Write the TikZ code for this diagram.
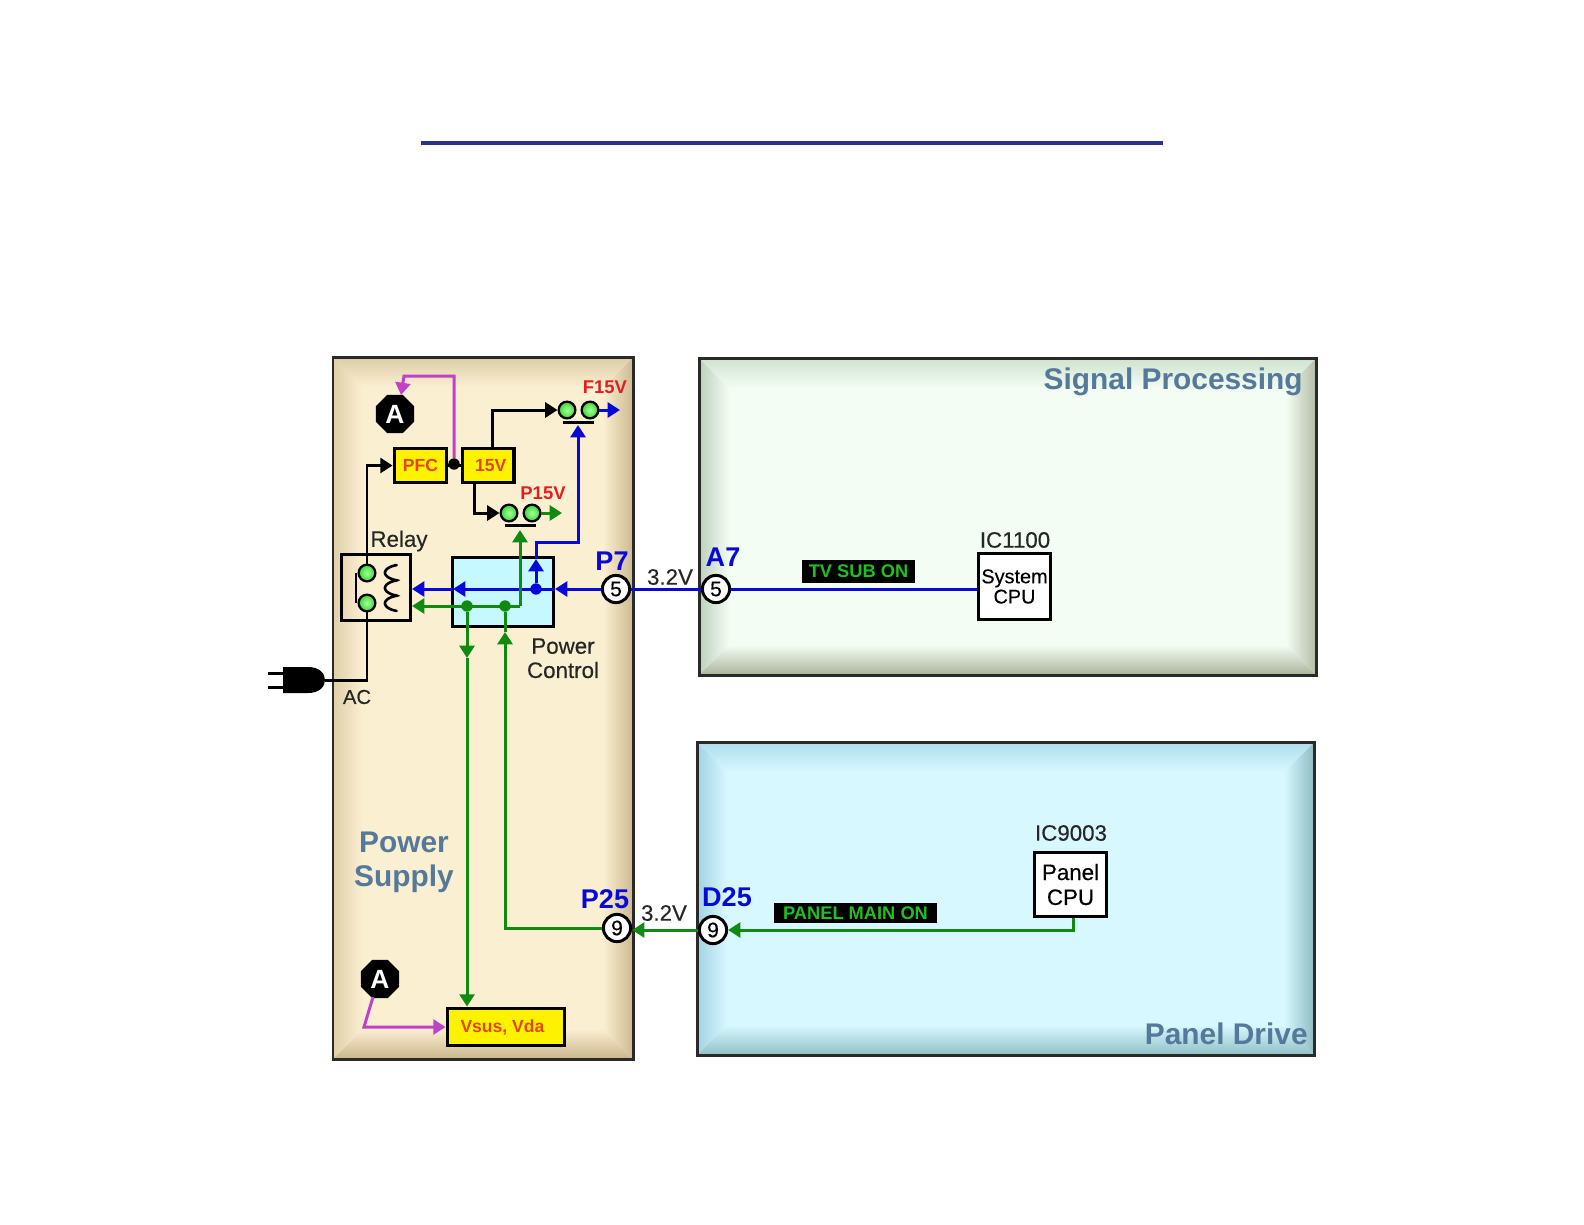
\documentclass[tikz,border=0pt]{standalone}
\usepackage{fontspec}
\setmainfont{Liberation Sans}
\newfontfamily\semifont{Liberation Sans}[FakeBold=0.35]
\usetikzlibrary{arrows.meta,shapes.geometric}
\definecolor{TitleBlue}{HTML}{2B3192}
\definecolor{PanelInk}{HTML}{2A2A2A}
\definecolor{HeadBlue}{HTML}{54799A}
\definecolor{SigBlue}{HTML}{0808D8}
\definecolor{SigGreen}{HTML}{108A10}
\definecolor{SigPink}{HTML}{C040C8}
\definecolor{SigRed}{HTML}{E02020}
\definecolor{BoxRed}{HTML}{E04808}
\definecolor{LedGreen}{HTML}{38D838}
\definecolor{LedHigh}{HTML}{A8FF98}
\definecolor{OnGreen}{HTML}{20C020}
\definecolor{CtrlCyan}{HTML}{C6F8FF}
\definecolor{SupplyIn}{HTML}{FBEFD2}
\definecolor{SupplyTop}{HTML}{DCCDA6}
\definecolor{SupplyLeft}{HTML}{DFCFA8}
\definecolor{SupplyRight}{HTML}{CDB98F}
\definecolor{SupplyLow}{HTML}{C9B58D}
\definecolor{SignalIn}{HTML}{F3FDF3}
\definecolor{SignalTop}{HTML}{CFE2CF}
\definecolor{SignalLeft}{HTML}{BCD0BC}
\definecolor{SignalRight}{HTML}{B4BCA6}
\definecolor{SignalLow}{HTML}{ABB39B}
\definecolor{DriveIn}{HTML}{D8F8FF}
\definecolor{DriveTop}{HTML}{ADDCEA}
\definecolor{DriveLeft}{HTML}{A2D2E2}
\definecolor{DriveRight}{HTML}{8FBCC2}
\definecolor{DriveLow}{HTML}{90BFC6}
% args: x1,y1,x2,y2,inner,top,left,right,low
\newcommand{\bevelpanel}[9]{
  \fill[#5] (#1,#2) rectangle (#3,#4);
  \begin{scope}
    \clip (#1,#2) -- (#1+30,#2+30) -- (#1+30,#4-30) -- (#1,#4) -- cycle;
    \shade[left color=#7,right color=#5] (#1,#2) rectangle (#1+30,#4);
  \end{scope}
  \begin{scope}
    \clip (#3,#2) -- (#3-30,#2+30) -- (#3-30,#4-30) -- (#3,#4) -- cycle;
    \shade[left color=#5,right color=#8] (#3-30,#2) rectangle (#3,#4);
  \end{scope}
  \begin{scope}
    \clip (#1,#2) -- (#1+30,#2+30) -- (#3-30,#2+30) -- (#3,#2) -- cycle;
    \shade[top color=#6,bottom color=#5] (#1,#2) rectangle (#3,#2+30);
  \end{scope}
  \begin{scope}
    \clip (#1,#4) -- (#1+30,#4-30) -- (#3-30,#4-30) -- (#3,#4) -- cycle;
    \shade[top color=#5,bottom color=#9] (#1,#4-30) rectangle (#3,#4);
  \end{scope}
  \draw[PanelInk,line width=1.7pt] (#1,#2) rectangle (#3,#4);
}

\begin{document}
\begin{tikzpicture}[
    x=0.02cm,y=-0.02cm,
    arrowtip/.style={-{Triangle[length=7pt,width=8.5pt]}},
    wire/.style={line width=1.7pt,color=#1},
    head/.style={font=\fontsize{17}{19.5}\selectfont\bfseries,color=HeadBlue,align=center,inner sep=0},
    plain/.style={font=\semifont\fontsize{12.7}{13.8}\selectfont,color=black!85,align=center,inner sep=0},
    pin/.style={font=\fontsize{15.4}{17}\selectfont\bfseries,color=SigBlue,inner sep=0},
    rail/.style={font=\fontsize{10.5}{12}\selectfont\bfseries,color=SigRed,inner sep=0},
    conn/.style={circle,draw=black,line width=1.7pt,fill=white,minimum size=15.5pt,inner sep=0,font=\semifont\fontsize{12}{13}\selectfont},
    block/.style={draw=black,line width=1.8pt,fill=yellow,inner sep=0,font=\fontsize{10}{12}\selectfont\bfseries,text=BoxRed},
    cpu/.style={draw=black,line width=1.8pt,fill=white,inner sep=0,align=center},
    led/.style={circle,draw=black,line width=1.3pt,inner color=LedHigh,outer color=LedGreen,minimum size=9.5pt,inner sep=0},
    tag/.style={fill=black,text=OnGreen,inner sep=0,font=\fontsize{10.4}{12}\selectfont\bfseries},
    octa/.style={regular polygon,regular polygon sides=8,fill=black,text=white,minimum size=23.5pt,inner sep=0,font=\fontsize{15}{16}\selectfont\bfseries},
    dot/.style={circle,fill=#1,minimum size=6.5pt,inner sep=0}
  ]
  \useasboundingbox (0,0) rectangle (1584,1224);

  % title rule
  \coordinate (ruleL) at (421,143);
  \coordinate (ruleR) at (1163,143);
  \draw[TitleBlue,line width=1.8pt] (ruleL) -- (ruleR);

  % panels
  \bevelpanel{333}{357}{633}{1059}{SupplyIn}{SupplyTop}{SupplyLeft}{SupplyRight}{SupplyLow}
  \bevelpanel{699}{358}{1316}{675}{SignalIn}{SignalTop}{SignalLeft}{SignalRight}{SignalLow}
  \bevelpanel{697}{742}{1314}{1055}{DriveIn}{DriveTop}{DriveLeft}{DriveRight}{DriveLow}
  \node[head] (supplylbl) at (404,862) {Power\\Supply};
  \node[head,anchor=east] (signallbl) at (1303,382) {Signal Processing};
  \node[head,anchor=east] (drivelbl) at (1308,1034) {Panel Drive};

  % power blocks
  \node[block,minimum width=30pt,minimum height=19.8pt] (pfc) at (420.5,465.5) {PFC};
  \node[block,minimum width=29.5pt,minimum height=19.8pt] (v15) at (488,465.5) {\hspace{3pt}15V};
  \node[block,minimum width=67pt,minimum height=21.5pt] (vsus) at (506,1027) {Vsus, Vda\hspace{4pt}\mbox{}};
  \node[octa] (atop) at (395,414) {A};
  \node[octa] (abot) at (380,979) {A};
  \node[dot=black] (join) at (454,464) {};

  % outputs
  \node[led] (f15a) at (567,410) {};
  \node[led] (f15b) at (590,410) {};
  \node[led] (p15a) at (509,513) {};
  \node[led] (p15b) at (532,513) {};
  \node[rail] (f15lbl) at (605,387) {F15V};
  \node[rail] (p15lbl) at (543,493) {P15V};
  \coordinate (f15barL) at (563,422);
  \coordinate (f15barR) at (594,422);
  \coordinate (p15barL) at (505,525);
  \coordinate (p15barR) at (536,525);
  \draw[wire=black] (f15barL) -- (f15barR);
  \draw[wire=black] (p15barL) -- (p15barR);

  % relay
  \node[draw=black,line width=1.7pt,minimum width=39.7pt,minimum height=38pt,inner sep=0] (relay) at (376,587.5) {};
  \node[led] (conta) at (367,573) {};
  \node[led] (contb) at (367,603) {};
  \node[plain] (relaylbl) at (399,541) {Relay};
  \draw[wire=black,line width=1.5pt,line cap=round] plot[domain=20:1060,samples=90,smooth] ({391+6*cos(\x)},{565+\x/1080*46-2.2*sin(\x)});
  \draw[wire=black] (356,573) -- (356,603);

  % power control
  \node[draw=black,line width=1.8pt,fill=CtrlCyan,minimum width=57.8pt,minimum height=39.7pt,inner sep=0] (ctrl) at (503,592) {};
  \node[plain,anchor=north] (ctrllbl) at (563,638) {Power\\Control};

  % connectors and pins
  \node[conn] (p7) at (616,589) {5};
  \node[conn] (a7) at (716,589) {5};
  \node[conn] (p25) at (617,928) {9};
  \node[conn] (d25) at (713,930) {9};
  \node[pin] (p7lbl) at (612,561) {P7};
  \node[pin] (a7lbl) at (723,557) {A7};
  \node[pin] (p25lbl) at (605,899) {P25};
  \node[pin] (d25lbl) at (727,897) {D25};
  \node[plain] (vtop) at (670,577) {3.2V};
  \node[plain] (vbot) at (664,913) {3.2V};

  % cpu blocks
  \node[cpu,minimum width=41.4pt,minimum height=38pt,font=\semifont\fontsize{11.3}{11.5}\selectfont] (syscpu) at (1014.5,586.5) {\raisebox{-2pt}{System}\\\raisebox{-2pt}{CPU}};
  \node[cpu,minimum width=41.4pt,minimum height=36.8pt,font=\semifont\fontsize{12.7}{14.2}\selectfont] (pancpu) at (1070.5,884.5) {Panel\\CPU};
  \node[plain] (ic1100) at (1015,540) {IC1100};
  \node[plain] (ic9003) at (1071,833) {IC9003};
  \node[tag,minimum width=64pt,minimum height=13pt] (subon) at (858.5,571.5) {TV SUB ON};
  \node[tag,minimum width=92.5pt,minimum height=11.3pt] (mainon) at (855.5,913) {PANEL MAIN ON};

  % plug
  \coordinate (plug) at (325,680);
  \fill[black] (283,667) -- (308,667) .. controls (319,667) and (325,673) .. (plug)
    .. controls (325,687) and (319,693) .. (308,693) -- (283,693) -- cycle;
  \coordinate (prongA) at (283,673);
  \coordinate (prongB) at (283,687);
  \draw[wire=black] (prongA) -- ++(-15,0);
  \draw[wire=black] (prongB) -- ++(-15,0);
  \node[plain,font=\semifont\fontsize{11.5}{13}\selectfont] (aclbl) at (357,697) {AC};

  % black wiring
  \draw[wire=black] (plug) -| (contb.south);
  \draw[wire=black,arrowtip] (conta.north) |- (pfc.west);
  \draw[wire=black,arrowtip] (v15.north -| 492,0) |- (f15a.west);
  \draw[wire=black,arrowtip] (v15.south -| 474,0) |- (p15a.west);
  \draw[wire=black] (pfc.east) -- (v15.west);

  % magenta
  \coordinate (magT) at (454,376);
  \coordinate (magL) at (404,376);
  \coordinate (atopin) at (401,395);
  \coordinate (about) at (373,997);
  \coordinate (magB) at (364,1027);
  \draw[wire=SigPink,arrowtip] (join) -- (magT) -- (magL) -- (atopin);
  \draw[wire=SigPink,arrowtip] (about) -- (magB) -- (vsus.west);

  % blue wiring
  \coordinate (ctrlin) at (555,589);
  \coordinate (ctrlmid) at (453,589);
  \coordinate (relayin) at (412,589);
  \coordinate (upbend) at (536,542);
  \coordinate (upstop) at (536,559);
  \coordinate (f15in) at (578,425);
  \coordinate (f15out) at (620,410);
  \node[dot=SigBlue] (bluejoin) at (536,589) {};
  \draw[wire=SigBlue,arrowtip] (p7) -- (ctrlin);
  \draw[wire=SigBlue,arrowtip] (ctrlin) -- (ctrlmid);
  \draw[wire=SigBlue,arrowtip] (ctrlmid) -- (relayin);
  \draw[wire=SigBlue,arrowtip] (bluejoin) -- (upstop);
  \draw[wire=SigBlue,arrowtip] (upstop) -- (upbend) -| (f15in);
  \draw[wire=SigBlue,arrowtip] (f15b) -- (f15out);
  \draw[wire=SigBlue] (a7) -- (p7);
  \draw[wire=SigBlue] (a7) -- (a7 -| syscpu.west);

  % green wiring
  \coordinate (greenR) at (520,606);
  \coordinate (relaygr) at (412,606);
  \coordinate (p15in) at (520,530);
  \coordinate (p15out) at (562,513);
  \coordinate (downtip) at (467,658);
  \coordinate (uptip) at (505,632);
  \coordinate (backL) at (505,928);
  \coordinate (cpuleg) at (1073,930);
  \node[dot=SigGreen] (gjoinA) at (467,606) {};
  \node[dot=SigGreen] (gjoinB) at (505,606) {};
  \draw[wire=SigGreen,arrowtip] (greenR) -- (relaygr);
  \draw[wire=SigGreen,arrowtip] (greenR) -- (p15in);
  \draw[wire=SigGreen,arrowtip] (p15b) -- (p15out);
  \draw[wire=SigGreen,arrowtip] (gjoinA) -- (downtip);
  \draw[wire=SigGreen,arrowtip] (downtip) -- (downtip |- vsus.north);
  \draw[wire=SigGreen,arrowtip] (p25) -- (backL) -- (uptip);
  \draw[wire=SigGreen] (uptip) -- (gjoinB);
  \draw[wire=SigGreen,arrowtip] (d25.west) -- (d25.west -| p25.east);
  \draw[wire=SigGreen,arrowtip] (pancpu.south -| cpuleg) -- (cpuleg) -- (d25);

\end{tikzpicture}
\end{document}
